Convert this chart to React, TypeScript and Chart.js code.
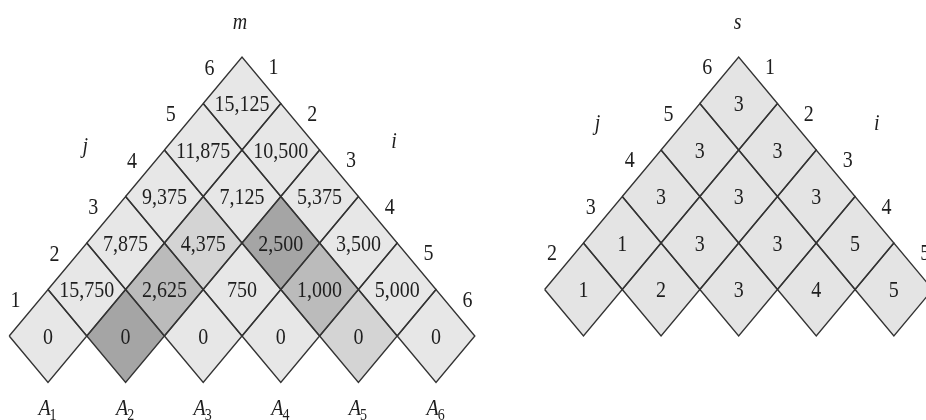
import React, { useEffect, useRef } from "react";
import { Chart, registerables } from "chart.js";

Chart.register(...registerables);

// Matrices in the chain (subscripts of A)
const MATRIX_INDICES = [1, 2, 3, 4, 5, 6];

// m table, by diagonal d = j - i (cells listed for i = 1, 2, ...)
const M_DIAG_0 = [0, 0, 0, 0, 0, 0];
const M_DIAG_1 = [15750, 2625, 750, 1000, 5000];
const M_DIAG_2 = [7875, 4375, 2500, 3500];
const M_DIAG_3 = [9375, 7125, 5375];
const M_DIAG_4 = [11875, 10500];
const M_DIAG_5 = [15125];

// s table, by diagonal d = j - i
const S_DIAG_1 = [1, 2, 3, 4, 5];
const S_DIAG_2 = [1, 3, 3, 5];
const S_DIAG_3 = [3, 3, 3];
const S_DIAG_4 = [3, 3];
const S_DIAG_5 = [3];

// highlighted m cells [i, j]
const HIGHLIGHT_DARK = [[2, 2], [3, 5]];
const HIGHLIGHT_MID = [[2, 3], [4, 5]];
const HIGHLIGHT_LIGHT = [[2, 4], [5, 5]];

// edge tick labels
const M_J_LABELS = ["1", "2", "3", "4", "5", "6"];
const M_I_LABELS = ["1", "2", "3", "4", "5", "6"];
const S_J_LABELS = ["2", "3", "4", "5", "6"];
const S_I_LABELS = ["1", "2", "3", "4", "5"];

const M_DIAGS = [M_DIAG_0, M_DIAG_1, M_DIAG_2, M_DIAG_3, M_DIAG_4, M_DIAG_5];
const S_DIAGS = [[], S_DIAG_1, S_DIAG_2, S_DIAG_3, S_DIAG_4, S_DIAG_5];

const S_SHIFT = 6.4;
const FONT = '"Liberation Serif", "DejaVu Serif", serif';
const STRETCH = 1.2;
const LINE = "#333333";
const TEXT = "#1e1e1e";
const BASE = "#e7e7e7";
const S_BASE = "#e4e4e4";
const DARK = "#a5a5a5";
const MID = "#bbbbbb";
const LIGHT = "#d4d4d4";

type Cell = { i: number; j: number; x: number; y: number; label: string; fill: string };

function inList(list: number[][], i: number, j: number) {
  return list.some((p) => p[0] === i && p[1] === j);
}

function mFill(i: number, j: number) {
  if (inList(HIGHLIGHT_DARK, i, j)) return DARK;
  if (inList(HIGHLIGHT_MID, i, j)) return MID;
  if (inList(HIGHLIGHT_LIGHT, i, j)) return LIGHT;
  return BASE;
}

function buildCells(): Cell[] {
  const cells: Cell[] = [];
  M_DIAGS.forEach((row, d) => {
    row.forEach((v, k) => {
      const i = k + 1;
      const j = i + d;
      cells.push({ i, j, x: (i + j) / 2, y: d, label: v.toLocaleString("en-US"), fill: mFill(i, j) });
    });
  });
  S_DIAGS.forEach((row, d) => {
    row.forEach((v, k) => {
      const i = k + 1;
      const j = i + d;
      cells.push({ i, j, x: (i + j) / 2 + S_SHIFT, y: d, label: String(v), fill: S_BASE });
    });
  });
  return cells;
}

function drawStretched(ctx: CanvasRenderingContext2D, text: string, px: number, py: number, font: string, align: CanvasTextAlign = "center") {
  ctx.save();
  ctx.translate(px, py);
  ctx.scale(1, STRETCH);
  ctx.font = font;
  ctx.textAlign = align;
  ctx.textBaseline = "alphabetic";
  ctx.fillStyle = TEXT;
  ctx.fillText(text, 0, 6.6);
  ctx.restore();
}

export default function App() {
  const ref = useRef<HTMLCanvasElement | null>(null);

  useEffect(() => {
    document.body.style.margin = "0";
    const canvas = ref.current;
    if (!canvas) return;
    const cells = buildCells();

    const datasets = cells.map((c) => ({
      data: [
        { x: c.x - 0.5, y: c.y },
        { x: c.x, y: c.y + 1 },
        { x: c.x + 0.5, y: c.y },
        { x: c.x, y: c.y - 1 },
        { x: c.x - 0.5, y: c.y },
      ],
      showLine: true,
      fill: "shape",
      backgroundColor: c.fill,
      borderColor: LINE,
      borderWidth: 1.4,
      pointRadius: 0,
      tension: 0,
    }));

    const textPlugin = {
      id: "cellText",
      afterDatasetsDraw(chart: any) {
        const ctx: CanvasRenderingContext2D = chart.ctx;
        const xs = chart.scales.x;
        const ys = chart.scales.y;
        const X = (v: number) => xs.getPixelForValue(v);
        const Y = (v: number) => ys.getPixelForValue(v);
        const numFont = `20px ${FONT}`;
        const itFont = `italic 20px ${FONT}`;

        cells.forEach((c) => drawStretched(ctx, c.label, X(c.x), Y(c.y), numFont));

        // m edge labels
        M_J_LABELS.forEach((t, k) => {
          const j = k + 1;
          const cx = (1 + j) / 2, cy = j - 1;
          drawStretched(ctx, t, X(cx - 0.25) - 13, Y(cy + 0.5) - 13.5, numFont);
        });
        M_I_LABELS.forEach((t, k) => {
          const i = k + 1;
          const cx = (i + 6) / 2, cy = 6 - i;
          drawStretched(ctx, t, X(cx + 0.25) + 12, Y(cy + 0.5) - 14, numFont);
        });
        // s edge labels
        S_J_LABELS.forEach((t, k) => {
          const j = k + 2;
          const cx = (1 + j) / 2 + S_SHIFT, cy = j - 1;
          drawStretched(ctx, t, X(cx - 0.25) - 12, Y(cy + 0.5) - 14, numFont);
        });
        S_I_LABELS.forEach((t, k) => {
          const i = k + 1;
          const cx = (i + 6) / 2 + S_SHIFT, cy = 6 - i;
          drawStretched(ctx, t, X(cx + 0.25) + 12, Y(cy + 0.5) - 14, numFont);
        });

        // titles and axis letters
        drawStretched(ctx, "m", X(3.5) - 2, Y(6.77), itFont);
        drawStretched(ctx, "j", X(1.48), Y(4.11), itFont);
        drawStretched(ctx, "i", X(5.46), Y(4.21), itFont);
        drawStretched(ctx, "s", X(3.5 + S_SHIFT) - 1, Y(6.77), itFont);
        drawStretched(ctx, "j", X(8.08), Y(4.6), itFont);
        drawStretched(ctx, "i", X(11.68), Y(4.6), itFont);

        // A_k labels
        MATRIX_INDICES.forEach((k) => {
          const cx = X(k);
          const cy = Y(-1.53);
          ctx.save();
          ctx.font = itFont;
          const wA = ctx.measureText("A").width;
          ctx.font = `14px ${FONT}`;
          const wS = ctx.measureText(String(k)).width;
          ctx.restore();
          const start = cx - (wA + wS) / 2;
          drawStretched(ctx, "A", start, cy, itFont, "left");
          ctx.save();
          ctx.translate(start + wA - 1, cy + 5);
          ctx.scale(1, STRETCH);
          ctx.font = `14px ${FONT}`;
          ctx.textAlign = "left";
          ctx.textBaseline = "alphabetic";
          ctx.fillStyle = TEXT;
          ctx.fillText(String(k), 0, 6.6);
          ctx.restore();
        });
      },
    };

    const chart = new Chart(canvas, {
      type: "scatter",
      data: { datasets: datasets as any },
      options: {
        animation: false,
        responsive: false,
        maintainAspectRatio: false,
        layout: { padding: 0 },
        events: [],
        scales: {
          x: { type: "linear", min: 0.3814, max: 12.314, display: false },
          y: { type: "linear", min: -1.806, max: 7.226, display: false },
        },
        plugins: {
          legend: { display: false },
          tooltip: { enabled: false },
          filler: { drawTime: "beforeDatasetsDraw" } as any,
        },
      },
      plugins: [textPlugin],
    });
    return () => chart.destroy();
  }, []);

  return (
    <div style={{ width: 926, height: 420, background: "#ffffff" }}>
      <canvas ref={ref} width={926} height={420} style={{ display: "block" }} />
    </div>
  );
}
